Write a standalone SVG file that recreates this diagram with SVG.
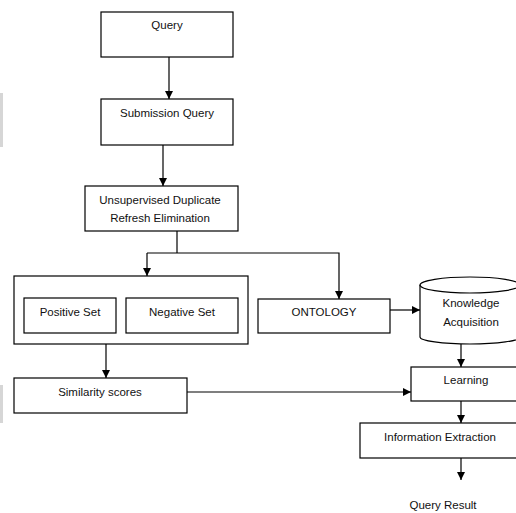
<svg xmlns="http://www.w3.org/2000/svg" width="516" height="513" viewBox="0 0 516 513">
<defs>
<marker id="ah" viewBox="0 0 8 8" refX="8" refY="4" markerWidth="8" markerHeight="8" markerUnits="userSpaceOnUse" orient="auto">
<path d="M0,0 L8,4 L0,8 z" fill="#000"/>
</marker>
</defs>
<style>
.box{fill:#fff;stroke:#000;stroke-width:1.2}
.t{font-family:"Liberation Sans",Arial,sans-serif;font-size:11.5px;fill:#111;text-anchor:middle}
.c{fill:none;stroke:#000;stroke-width:1.2}
.a{marker-end:url(#ah)}
</style>
<rect width="516" height="513" fill="#fff"/>
<rect x="0" y="93" width="3" height="54" fill="#d6d6d6"/>
<rect x="0" y="385" width="3" height="38" fill="#d6d6d6"/>
<g id="connectors">
<path class="c a" d="M169,57 V99"/>
<path class="c a" d="M163,145 V186"/>
<path class="c" d="M177,231 V253"/>
<path class="c a" d="M147,253 H339 V299"/>
<path class="c a" d="M147,253 V276"/>
<path class="c a" d="M106,344 V378"/>
<path class="c a" d="M187,392 H411"/>
<path class="c a" d="M390,310 H420"/>
<path class="c a" d="M461,344 V367"/>
<path class="c a" d="M461,401 V423"/>
<path class="c a" d="M461,458 V480"/>
</g>
<g id="query"><rect class="box" x="101" y="12" width="132" height="45"/><text class="t" x="167" y="29">Query</text></g>
<g id="submission"><rect class="box" x="101" y="99" width="132" height="46"/><text class="t" x="167" y="117">Submission Query</text></g>
<g id="unsupervised"><rect class="box" x="85" y="186" width="153" height="45"/><text class="t" x="160" y="204">Unsupervised Duplicate</text><text class="t" x="160" y="222">Refresh Elimination</text></g>
<g id="sets"><rect class="box" x="14" y="276" width="234" height="68"/></g>
<g id="positive"><rect class="box" x="24" y="298" width="92" height="35"/><text class="t" x="70" y="316">Positive Set</text></g>
<g id="negative"><rect class="box" x="126" y="298" width="112" height="35"/><text class="t" x="182" y="316">Negative Set</text></g>
<g id="similarity"><rect class="box" x="14" y="378" width="173" height="35"/><text class="t" x="100" y="396">Similarity scores</text></g>
<g id="ontology"><rect class="box" x="258" y="299" width="132" height="34"/><text class="t" x="324" y="316">ONTOLOGY</text></g>
<g id="knowledge">
<path class="box" d="M420,285 V337 A50,7 0 0 0 520,337 V285"/>
<ellipse class="box" cx="470" cy="285" rx="50" ry="8"/>
<text class="t" x="471" y="307">Knowledge</text><text class="t" x="471" y="326">Acquisition</text>
</g>
<g id="learning"><rect class="box" x="411" y="367" width="110" height="34"/><text class="t" x="466" y="384">Learning</text></g>
<g id="extraction"><rect class="box" x="360" y="423" width="161" height="35"/><text class="t" x="440" y="441">Information Extraction</text></g>
<g id="result"><text class="t" x="443" y="509">Query Result</text></g>
</svg>
